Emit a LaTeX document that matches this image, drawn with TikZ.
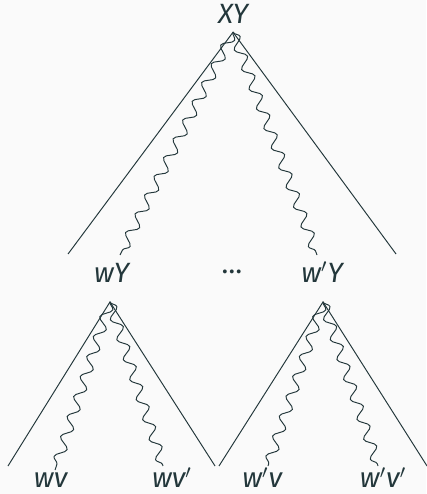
\documentclass[tikz,border=0pt]{standalone}
\usepackage{fontspec}
\setmainfont{Fira Sans}
\usetikzlibrary{decorations.pathmorphing}
\definecolor{darkteal}{RGB}{35,55,59}
\definecolor{paper}{RGB}{250,250,250}
\newcommand{\pr}{\ensuremath{'}}

\begin{document}
\begin{tikzpicture}[
  lbl/.style={text=darkteal,font=\fontsize{13}{15}\selectfont\itshape,inner sep=1pt,anchor=base},
  leg/.style={draw=darkteal,line width=0.45pt},
  wave/.style={draw=darkteal,line width=0.45pt,decorate,
               decoration={snake,amplitude=2.4pt,segment length=9.8pt}}
]
\fill[paper] (0,0) rectangle (6.984,8.098);
\useasboundingbox (0,0) rectangle (6.984,8.098);

\node[lbl] (xy) at (3.82,7.72) {XY};
\node[lbl] (wy) at (1.83,3.475) {wY};
\node[lbl,anchor=center] (dots) at (3.80,3.64) {\upshape\ldots};
\node[lbl] (wpy) at (5.28,3.475) {w\pr Y};
\node[lbl] (wv) at (0.83,0.1) {wv};
\node[lbl] (wvp) at (2.82,0.1) {wv\pr};
\node[lbl] (wpv) at (4.30,0.1) {w\pr v};
\node[lbl] (wpvp) at (6.28,0.1) {w\pr v\pr};

\coordinate (top) at (3.82,7.57);
\coordinate (topl) at (1.115,3.934);
\coordinate (topr) at (6.492,3.934);
\coordinate (lefttop) at (1.803,3.148);
\coordinate (leftl) at (0.131,0.459);
\coordinate (leftr) at (3.525,0.459);
\coordinate (righttop) at (5.295,3.148);
\coordinate (rightl) at (3.590,0.459);
\coordinate (rightr) at (7.0,0.459);

\draw[leg] (topl) -- (top) -- (topr);
\draw[leg] (leftl) -- (lefttop) -- (leftr);
\draw[leg] (rightl) -- (righttop) -- (rightr);

\draw[wave] (top) -- (1.967,3.918);
\draw[wave] (top) -- (5.197,3.918);
\draw[wave] (lefttop) -- (0.902,0.393);
\draw[wave] (lefttop) -- (2.672,0.459);
\draw[wave] (righttop) -- (4.393,0.459);
\draw[wave] (righttop) -- (6.197,0.459);
\end{tikzpicture}
\end{document}
